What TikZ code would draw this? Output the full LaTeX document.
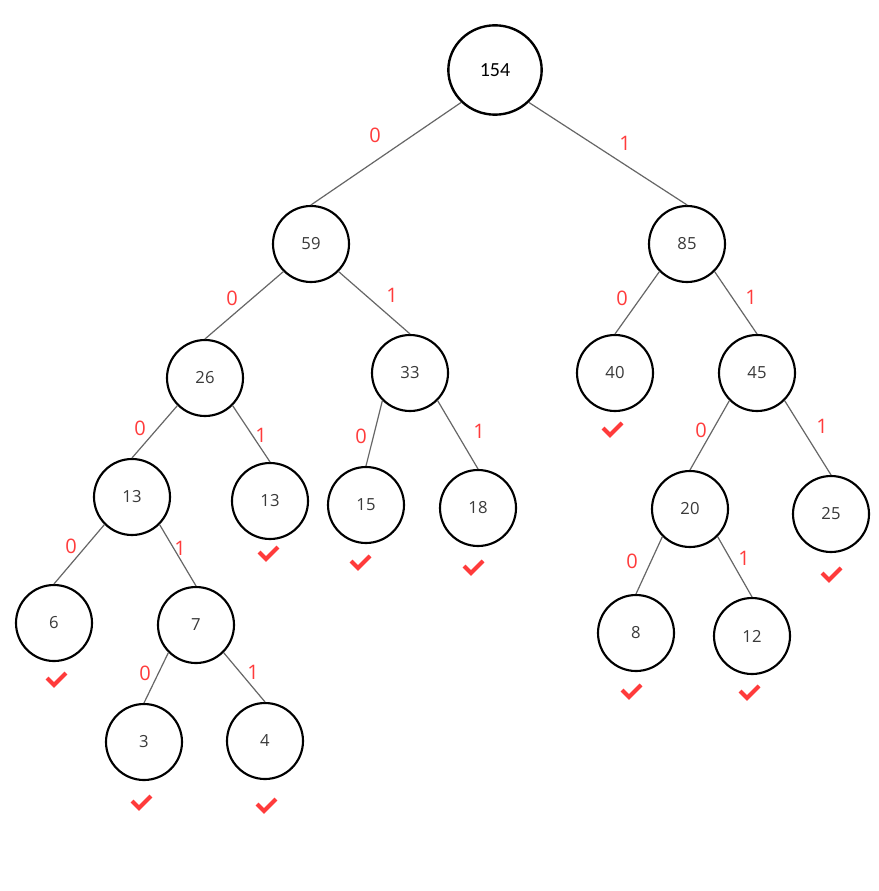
\documentclass[tikz,border=0pt]{standalone}
\usepackage{fontspec}
\setmainfont{Open Sans}
\newfontfamily\rootfont{Carlito}
\definecolor{lbl}{HTML}{FF3B3B}
\definecolor{txt}{HTML}{3A3A3A}
\definecolor{edge}{HTML}{666666}
\usetikzlibrary{shapes.geometric}
\tikzset{
  hnode/.style={circle,draw=black,line width=1.6pt,minimum size=57pt,inner sep=0pt,font=\fontsize{12.5}{14}\selectfont,text=txt},
  rootnode/.style={ellipse,draw=black,line width=1.8pt,minimum width=70pt,minimum height=67pt,inner sep=0pt,font=\rootfont\fontsize{15}{17}\selectfont,text=black},
  hedge/.style={draw=edge,line width=0.9pt},
  elabel/.style={text=lbl,font=\fontsize{15}{17}\selectfont,inner sep=0pt},
  tick/.pic={\draw[lbl,line width=3pt] (-9,-1) -- (-2,6) -- (10,-6);}
}
\begin{document}
\begin{tikzpicture}[x=0.75pt,y=-0.75pt]
\useasboundingbox (0,0) rectangle (878,891);
\fill[white] (0,0) rectangle (878,891);
\node[rootnode] (n154) at (495,70) {154};
\node[hnode] (n59) at (311,244) {59};
\node[hnode] (n85) at (687,244) {85};
\node[hnode] (n26) at (205,378) {26};
\node[hnode] (n33) at (410,373) {33};
\node[hnode] (n40) at (615,373) {40};
\node[hnode] (n45) at (757,373) {45};
\node[hnode] (n13a) at (132,497) {13};
\node[hnode] (n13b) at (270,501) {13};
\node[hnode] (n15) at (366,505) {15};
\node[hnode] (n18) at (478,508) {18};
\node[hnode] (n20) at (690,509) {20};
\node[hnode] (n25) at (831,514) {25};
\node[hnode] (n6) at (54,623) {6};
\node[hnode] (n7) at (196,625) {7};
\node[hnode] (n8) at (636,633) {8};
\node[hnode] (n12) at (752,636) {12};
\node[hnode] (n3) at (144,742) {3};
\node[hnode] (n4) at (265,741) {4};
\foreach \a/\b in {n154/n59,n59/n26,n85/n40,n26/n13a,n33/n15,n45/n20,n13a/n6,n20/n8,n7/n3}
  \draw[hedge] (\a.south west) -- (\b.north);
\foreach \a/\b in {n154/n85,n59/n33,n85/n45,n26/n13b,n33/n18,n45/n25,n13a/n7,n20/n12,n7/n4}
  \draw[hedge] (\a.south east) -- (\b.north);
\node[elabel] (l1) at (375,135) {0};
\node[elabel] (l2) at (625,143) {1};
\node[elabel] (l3) at (232,298) {0};
\node[elabel] (l4) at (392,295) {1};
\node[elabel] (l5) at (622,298) {0};
\node[elabel] (l6) at (751,297) {1};
\node[elabel] (l7) at (140,428) {0};
\node[elabel] (l8) at (261,435) {1};
\node[elabel] (l9) at (361,436) {0};
\node[elabel] (l10) at (479,431) {1};
\node[elabel] (l11) at (701,430) {0};
\node[elabel] (l12) at (822,426) {1};
\node[elabel] (l13) at (71,546) {0};
\node[elabel] (l14) at (180,548) {1};
\node[elabel] (l15) at (632,561) {0};
\node[elabel] (l16) at (744,558) {1};
\node[elabel] (l17) at (145,673) {0};
\node[elabel] (l18) at (253,672) {1};
\foreach \x/\y in {612/429,268/553,360/562,473/567,831/574,56/679,631/691,749/692,141/802,266/805}
  \pic at (\x,\y) {tick};
\end{tikzpicture}
\end{document}
